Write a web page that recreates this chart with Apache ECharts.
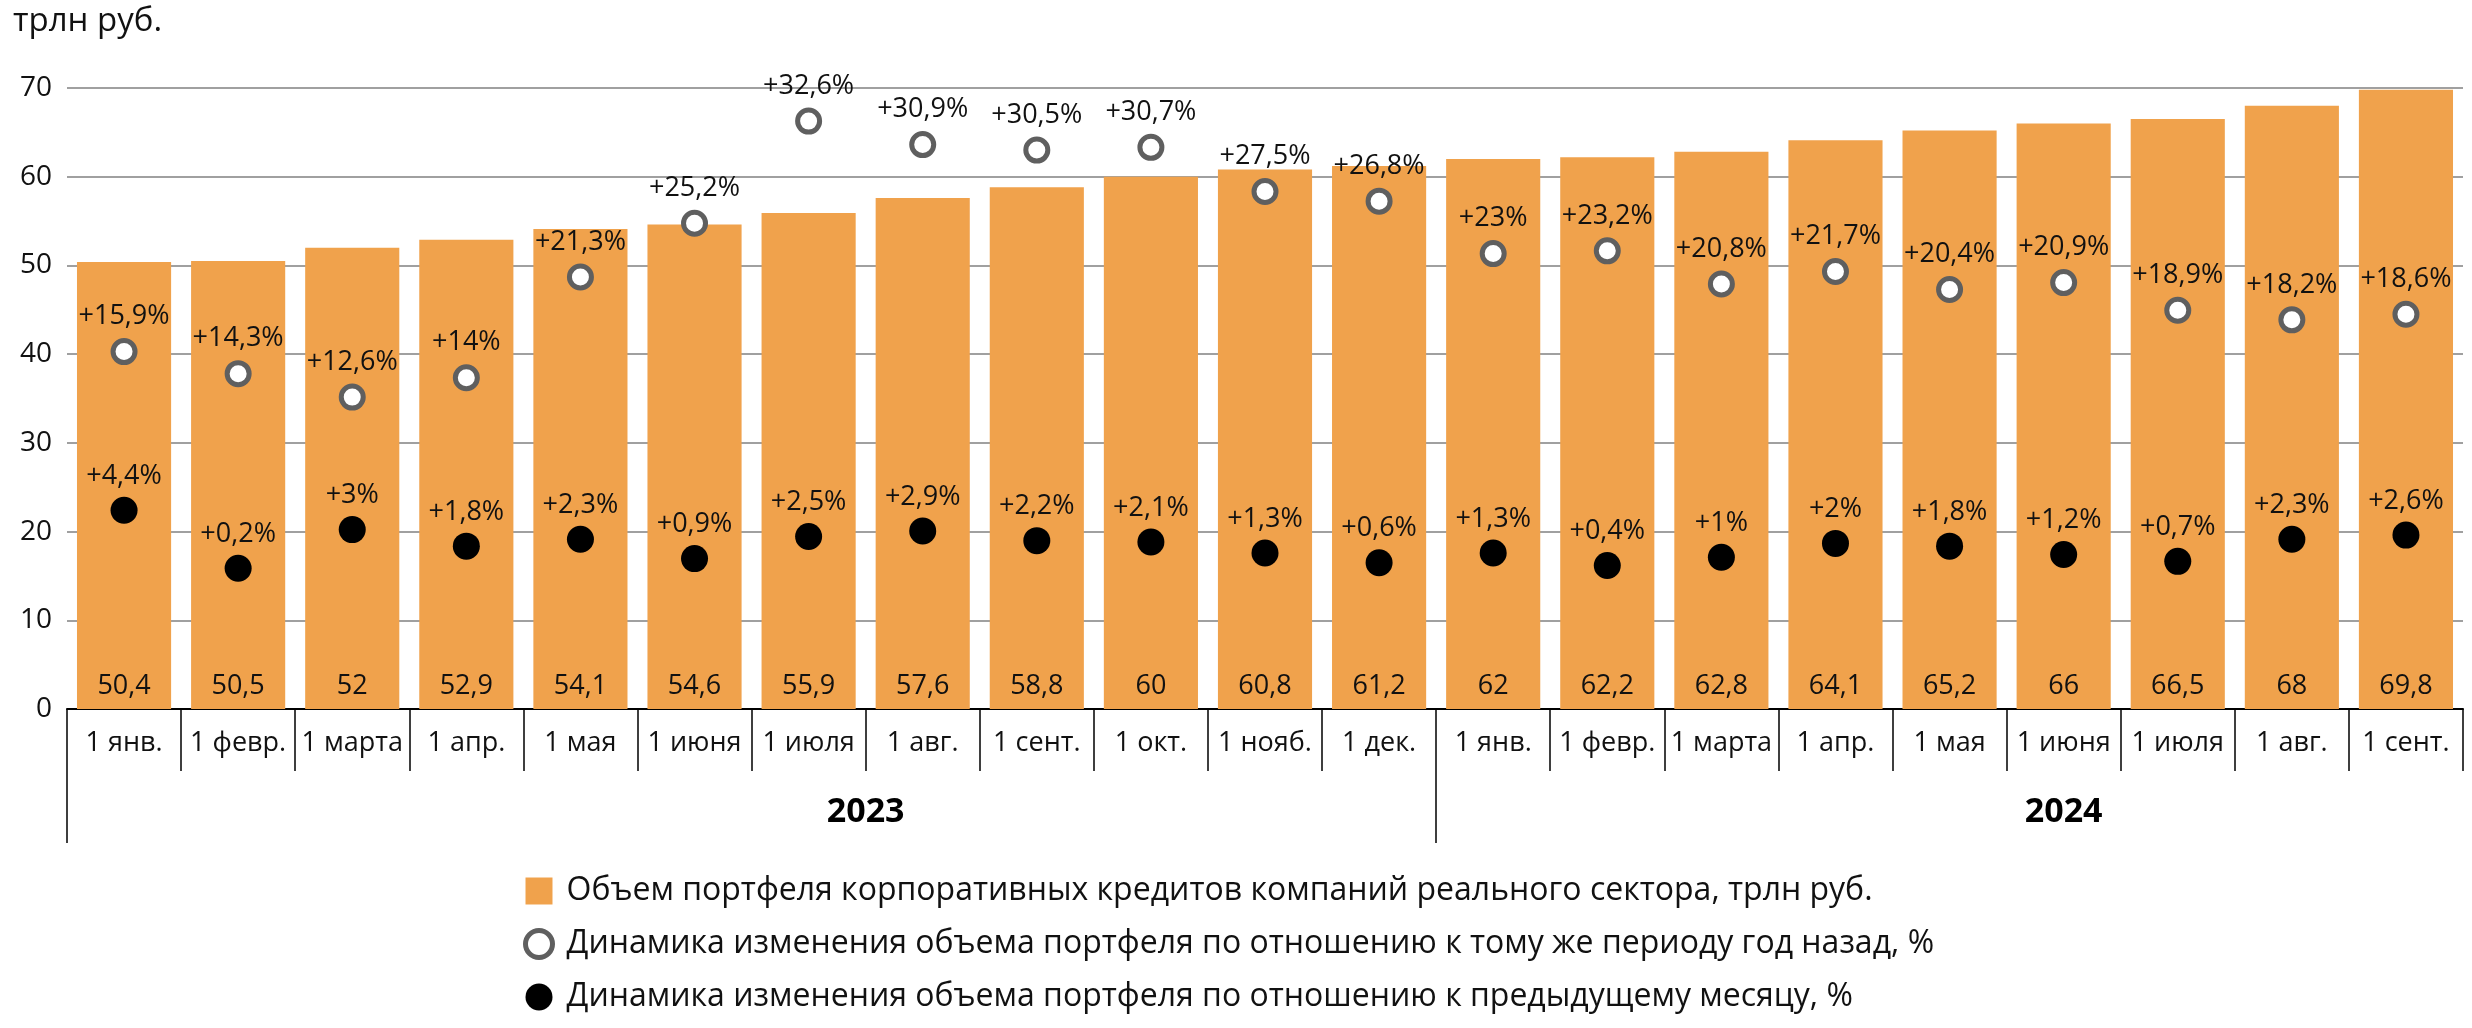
<!DOCTYPE html>
<html>
<head>
<meta charset="utf-8">
<script src="https://cdn.jsdelivr.net/npm/echarts@6/dist/echarts.min.js"></script>
<style>
html,body{margin:0;padding:0;background:#fff;}
#c{width:2472px;height:1028px;}
</style>
</head>
<body>
<div id="c"></div>
<script>
const categories = ['1 янв.','1 февр.','1 марта','1 апр.','1 мая','1 июня','1 июля','1 авг.','1 сент.','1 окт.','1 нояб.','1 дек.',
  '1 янв.','1 февр.','1 марта','1 апр.','1 мая','1 июня','1 июля','1 авг.','1 сент.'];
const portfolio = [50.4,50.5,52,52.9,54.1,54.6,55.9,57.6,58.8,60,60.8,61.2,62,62.2,62.8,64.1,65.2,66,66.5,68,69.8];
const yoy = [15.9,14.3,12.6,14,21.3,25.2,32.6,30.9,30.5,30.7,27.5,26.8,23,23.2,20.8,21.7,20.4,20.9,18.9,18.2,18.6];
const mom = [4.4,0.2,3,1.8,2.3,0.9,2.5,2.9,2.2,2.1,1.3,0.6,1.3,0.4,1,2,1.8,1.2,0.7,2.3,2.6];
const years = ['2023','2024'];
const yearLabelPos = [7, 17.5];
const yearBounds = [0, 12];

const seriesNames = [
  'Объем портфеля корпоративных кредитов компаний реального сектора, трлн руб.',
  'Динамика изменения объема портфеля по отношению к тому же периоду год назад, %',
  'Динамика изменения объема портфеля по отношению к предыдущему месяцу, %'
];

const FONT = 'Open Sans';
const fmt = v => String(v).replace('.', ',');
const pct = v => '+' + fmt(v) + '%';

const chart = echarts.init(document.getElementById('c'));
chart.setOption({
  animation: false,
  textStyle: { fontFamily: FONT },
  title: {
    text: 'трлн руб.', left: 8, top: 0,
    textStyle: { fontFamily: FONT, fontSize: 33, fontWeight: 400, color: '#111' }
  },
  grid: { left: 67, right: 9, top: 88, bottom: 319, containLabel: false },
  legend: {
    orient: 'vertical', left: 523, top: 875, height: 400, padding: 0,
    itemWidth: 27, itemHeight: 27, itemGap: 21,
    textStyle: { fontFamily: FONT, fontSize: 32, color: '#111', lineHeight: 27, padding: [0,0,0,9] },
    data: [
      { name: seriesNames[0], icon: 'rect', itemStyle: { color: '#F0A24C' } },
      { name: seriesNames[1], icon: 'circle', itemStyle: { color: '#fff', borderColor: '#5f5f5f', borderWidth: 5 } },
      { name: seriesNames[2], icon: 'circle', itemStyle: { color: '#000' } }
    ]
  },
  xAxis: [
    {
      type: 'category', data: categories, position: 'bottom',
      axisLine: { show: true, onZero: false, lineStyle: { color: '#000', width: 2 } },
      axisTick: { show: true, interval: 0, length: 62, lineStyle: { color: '#000', width: 1.5 } },
      axisLabel: { interval: 0, margin: 21, fontSize: 27, color: '#111', fontFamily: FONT },
      splitLine: { show: false }
    },
    {
      type: 'value', min: 0, max: 21, position: 'bottom',
      axisLine: { show: false, onZero: false },
      splitLine: { show: false },
      axisTick: { show: true, customValues: yearBounds, length: 134, lineStyle: { color: '#000', width: 1.5 } },
      axisLabel: {
        customValues: yearLabelPos, margin: 86, fontSize: 34, fontWeight: 'bold', color: '#000', fontFamily: FONT,
        formatter: v => years[yearLabelPos.indexOf(v)] || ''
      }
    }
  ],
  yAxis: [
    {
      type: 'value', min: 0, max: 70, interval: 10,
      axisLine: { show: false }, axisTick: { show: false },
      axisLabel: { margin: 15, fontSize: 28, color: '#111', fontFamily: FONT },
      splitLine: { show: true, lineStyle: { color: '#a0a0a0', width: 2 } }
    },
    {
      type: 'value', min: -10, max: 35, show: false,
      splitLine: { show: false }
    }
  ],
  series: [
    {
      name: seriesNames[0], type: 'bar', data: portfolio,
      xAxisIndex: 0, yAxisIndex: 0,
      barCategoryGap: '17.5%',
      itemStyle: { color: '#F0A24C' },
      label: { show: true, position: 'insideBottom', distance: 9, fontSize: 27, color: '#111', fontFamily: FONT, formatter: p => fmt(p.value) },
      z: 2
    },
    {
      name: seriesNames[1], type: 'scatter', data: yoy,
      xAxisIndex: 0, yAxisIndex: 1,
      symbol: 'circle', symbolSize: 22,
      itemStyle: { color: '#fff', borderColor: '#5f5f5f', borderWidth: 5, opacity: 1 },
      label: { show: true, position: 'top', distance: 8, fontSize: 27, color: '#111', fontFamily: FONT, formatter: p => pct(p.value) },
      z: 5
    },
    {
      name: seriesNames[2], type: 'scatter', data: mom,
      xAxisIndex: 0, yAxisIndex: 1,
      symbol: 'circle', symbolSize: 27,
      itemStyle: { color: '#000', opacity: 1 },
      label: { show: true, position: 'top', distance: 7, fontSize: 27, color: '#111', fontFamily: FONT, formatter: p => pct(p.value) },
      z: 5
    }
  ]
});
</script>
</body>
</html>
